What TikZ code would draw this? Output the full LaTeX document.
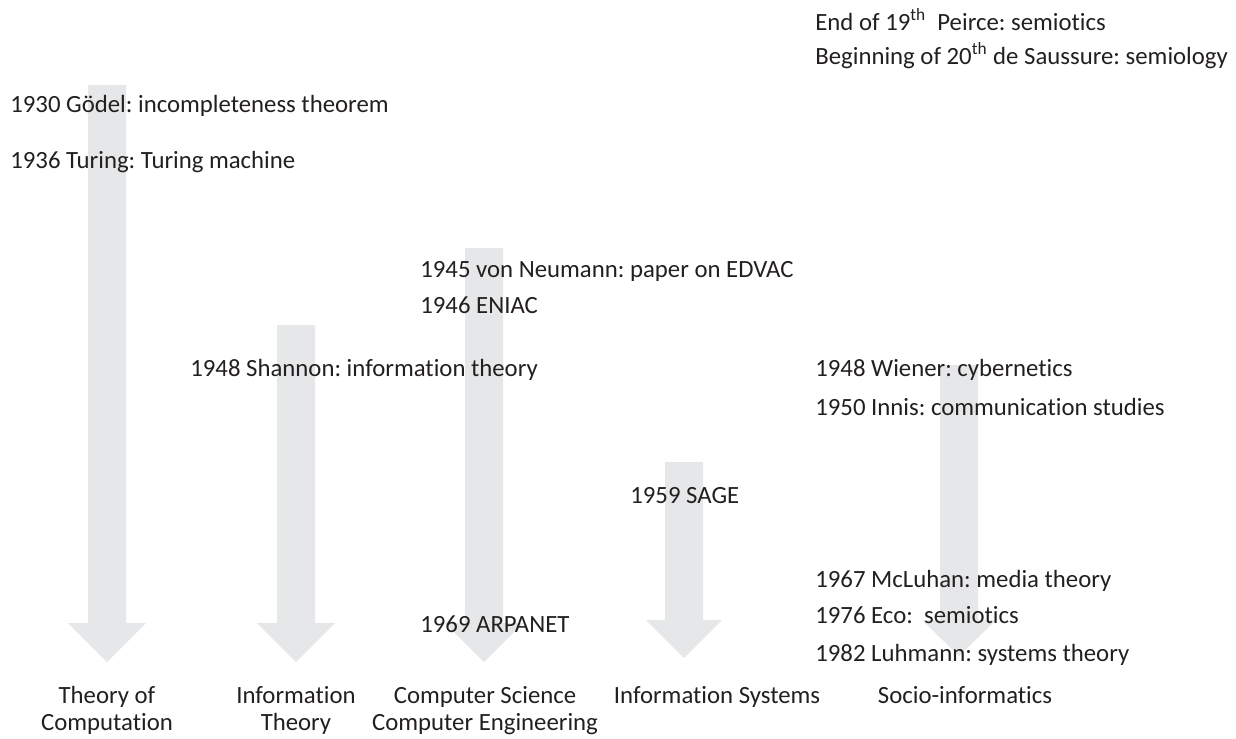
\documentclass[tikz,border=0pt]{standalone}
\usepackage{fontspec}
\setmainfont{Carlito}[Ligatures=NoCommon]
\frenchspacing
\definecolor{arrowgray}{RGB}{230,231,232}
\definecolor{textgray}{RGB}{35,31,32}

\tikzset{
  timeline/.style={fill=arrowgray},
  event/.style={anchor=base west,inner sep=0pt,text=textgray,font=\fontsize{14.1}{17}\selectfont},
  field/.style={anchor=base,inner sep=0pt,align=center,text=textgray,font=\fontsize{14.1}{15.3}\selectfont}
}

\begin{document}
\begin{tikzpicture}[x=0.02cm,y=-0.02cm]
\useasboundingbox (0,0) rectangle (1236,738);

% the five big arrows
\fill[timeline] (88,85) -- (126,85) -- (126,623) -- (146,623) -- (107,662) -- (68,623) -- (88,623) -- cycle;
\fill[timeline] (277,325) -- (315,325) -- (315,623) -- (335,623) -- (296,662) -- (257,623) -- (277,623) -- cycle;
\fill[timeline] (465,248) -- (503,248) -- (503,623) -- (523,623) -- (484,662) -- (445,623) -- (465,623) -- cycle;
\fill[timeline] (665,462) -- (703,462) -- (703,620) -- (722,620) -- (684,658) -- (646,620) -- (665,620) -- cycle;
\fill[timeline] (940,365) -- (978,365) -- (978,620) -- (996,620) -- (959,656) -- (922,620) -- (940,620) -- cycle;

% events
\node[event] (peirce) at (815,30) {End of 19\textsuperscript{th}\ \ Peirce: semiotics};
\node[event] (saussure) at (815,64) {Beginning of 20\textsuperscript{th} de Saussure: semiology};
\node[event] (goedel) at (10,112) {1930 Gödel: incompleteness theorem};
\node[event] (turing) at (10,168) {1936 Turing: Turing machine};
\node[event] (neumann) at (420,277) {1945 von Neumann: paper on EDVAC};
\node[event] (eniac) at (420,313) {1946 ENIAC};
\node[event] (shannon) at (190,376) {1948 Shannon: information theory};
\node[event] (wiener) at (815,376) {1948 Wiener: cybernetics};
\node[event] (innis) at (815,415) {1950 Innis: communication studies};
\node[event] (sage) at (630,503) {1959 SAGE};
\node[event] (mcluhan) at (815,587) {1967 McLuhan: media theory};
\node[event] (eco) at (815,623) {1976 Eco:\ \ semiotics};
\node[event] (arpanet) at (420,632) {1969 ARPANET};
\node[event] (luhmann) at (815,661) {1982 Luhmann: systems theory};

% fields (base is the last line)
\node[field] (toc) at (107,730) {Theory of\\Computation};
\node[field] (it) at (296,730) {Information\\Theory};
\node[field] (cs) at (485,730) {Computer Science\\Computer Engineering};
\node[field] (is) at (717,703) {Information Systems};
\node[field] (socio) at (965,703) {Socio-informatics};
\end{tikzpicture}
\end{document}
